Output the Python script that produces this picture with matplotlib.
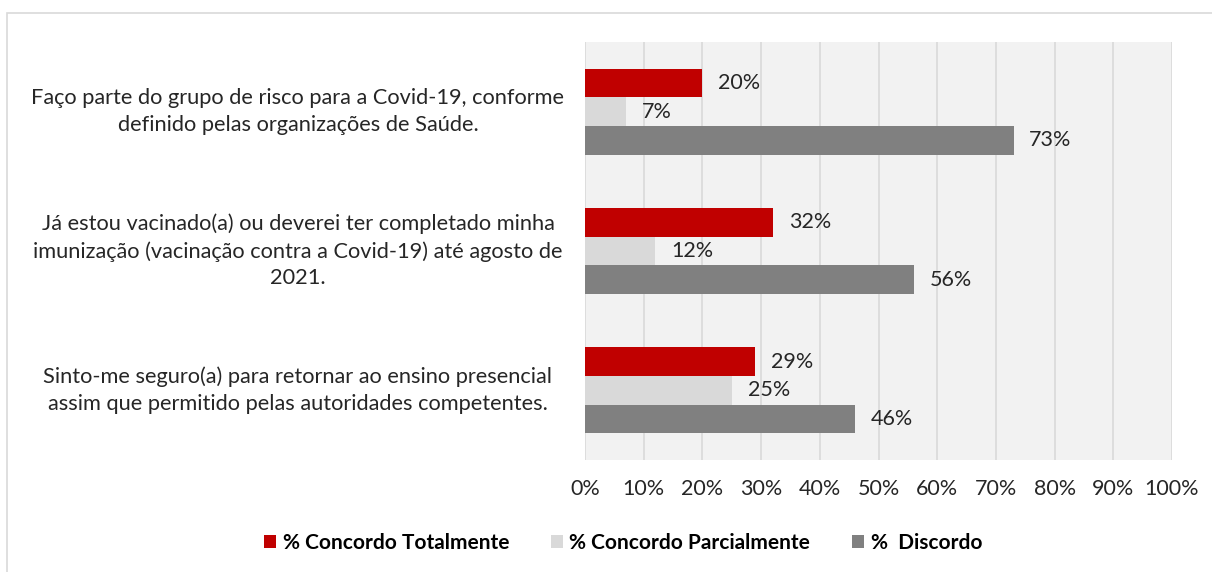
import matplotlib
matplotlib.use("Agg")
import matplotlib.pyplot as plt
from matplotlib.patches import Rectangle, Patch
import numpy as np

categories = [
    "Faço parte do grupo de risco para a Covid-19, conforme\ndefinido pelas organizações de Saúde.",
    "Já estou vacinado(a) ou deverei ter completado minha\nimunização (vacinação contra a Covid-19) até agosto de\n2021.",
    "Sinto-me seguro(a) para retornar ao ensino presencial\nassim que permitido pelas autoridades competentes.",
]
series_names = ["% Concordo Totalmente", "% Concordo Parcialmente", "%  Discordo"]
concordo_total = [20, 32, 29]
concordo_parcial = [7, 12, 25]
discordo = [73, 56, 46]
xticks = list(range(0, 101, 10))
xtick_labels = [f"{t}%" for t in xticks]

colors = ["#c00000", "#d9d9d9", "#808080"]
font = "Lato"
txtcol = "#262626"

W, H = 1212, 572
fig = plt.figure(figsize=(W / 100, H / 100), dpi=100)
fig.patch.set_facecolor("white")

# outer frame
fig.patches.append(Rectangle((7 / W, -0.05), 1.1, (H - 13) / H + 0.05,
                             transform=fig.transFigure, fill=False,
                             edgecolor="#d9d9d9", linewidth=1.2))

ax = fig.add_axes([585 / W, (H - 460) / H, (1172 - 585) / W, (460 - 42) / H])
ax.set_facecolor("#f2f2f2")

y = np.arange(len(categories))
h = 0.206
all_series = [concordo_total, concordo_parcial, discordo]
for i, (vals, c, name) in enumerate(zip(all_series, colors, series_names)):
    pos = y + (i - 1) * h
    ax.barh(pos, vals, height=h, color=c, label=name, zorder=3)
    for p, v in zip(pos, vals):
        ax.text(v + 2.7, p, f"{v}%", va="center", ha="left",
                fontsize=15.5, family=font, color=txtcol, zorder=4)

ax.set_xlim(0, 100)
ax.set_ylim(2.5, -0.5)
ax.set_xticks(xticks)
ax.set_xticklabels(xtick_labels, fontsize=15.5, family=font, color=txtcol)
ax.set_yticks([])
ax.tick_params(axis="x", length=0, pad=14)
ax.grid(axis="x", color="#d9d9d9", linewidth=1.2, zorder=0)
for s in ax.spines.values():
    s.set_visible(False)

# category labels
for yi, cat in zip(y, categories):
    ax.text(-48.9, yi, cat, transform=ax.transData, ha="center", va="center",
            multialignment="center", fontsize=15.7, family=font, color=txtcol,
            linespacing=1.42)

handles = [Patch(facecolor=c, edgecolor="none") for c in colors]
leg = fig.legend(handles, series_names, loc="center", bbox_to_anchor=(623 / W, (H - 543) / H),
                 ncol=3, frameon=False, handlelength=0.6, handleheight=0.6,
                 handletextpad=0.3, columnspacing=2.0,
                 prop={"family": font, "size": 15, "weight": "bold"})
for t in leg.get_texts():
    t.set_color("black")

fig.savefig("out.png", dpi=100, facecolor="white")
